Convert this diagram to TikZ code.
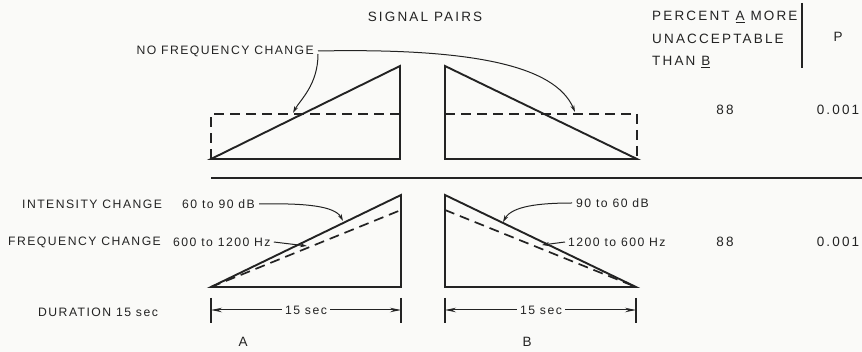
\documentclass[tikz,border=0pt]{standalone}
\usepackage{fontspec}
\setmainfont{Liberation Sans}[LetterSpace=12]
\newfontfamily\hdrfont{Liberation Sans}[LetterSpace=16]
\usetikzlibrary{arrows.meta}
\definecolor{ink}{RGB}{35,35,35}
\definecolor{paper}{RGB}{250,250,248}
\begin{document}
\begin{tikzpicture}[x=1pt,y=-1pt,
  lbl/.style={inner sep=0pt, text=ink, font=\fontsize{12.2}{14}\selectfont},
  hdr/.style={inner sep=0pt, text=ink, font=\hdrfont\fontsize{13.5}{22.5}\selectfont},
  shapeline/.style={draw=ink, line width=1.9pt, line join=miter},
  dashline/.style={draw=ink, line width=1.7pt, dash pattern=on 10pt off 6pt},
  pointer/.style={draw=ink, line width=1pt, -{Stealth[length=7pt,width=4pt]}},
  dimarrow/.style={draw=ink, line width=1pt, -{Stealth[length=11pt,width=4.5pt]}},
  rule/.style={draw=ink, line width=1.3pt}]
\fill[paper] (0,0) rectangle (862,352);
\useasboundingbox (0,0) rectangle (862,352);

% ---------- header ----------
\node[hdr] (title) at (425,17) {SIGNAL PAIRS};
\node[hdr, anchor=north west, align=left] (pct) at (652,11) {PERCENT \underline{A} MORE\\UNACCEPTABLE\\THAN \underline{B}};
\coordinate (barT) at (802,3);
\coordinate (barB) at (802,68);
\draw[rule] (barT) -- (barB);
\node[hdr] (p) at (838,37) {P};

% ---------- top pair ----------
\coordinate (a1) at (211,159); \coordinate (a2) at (400,66); \coordinate (a3) at (400,159);
\coordinate (a4) at (211,114); \coordinate (a5) at (400,114);
\draw[shapeline] (a1) -- (a2) -- (a3) -- cycle;
\draw[dashline] (a1) -- (a4) -- (a5);

\coordinate (b1) at (445,66); \coordinate (b2) at (637,159); \coordinate (b3) at (445,159);
\coordinate (b4) at (445,114); \coordinate (b5) at (637,114);
\draw[shapeline] (b1) -- (b2) -- (b3) -- cycle;
\draw[dashline] (b4) -- (b5) -- (b2);

\node[lbl, anchor=east] (nfc) at (314,51) {NO FREQUENCY CHANGE};
\coordinate (nfcA) at (293,113);
\coordinate (nfcB) at (575,112);
\draw[pointer] ([xshift=4pt,yshift=-3pt]nfc.east) .. controls (318,85) and (300,100) .. (nfcA);
\draw[pointer] ([xshift=4pt]nfc.east) .. controls (470,48) and (555,65) .. (nfcB);

\node[hdr] (v1) at (725,110) {88};
\node[hdr] (p1) at (838,110) {0.001};

\coordinate (rl) at (211,178); \coordinate (rr) at (862,178);
\draw[rule] (rl) -- (rr);

% ---------- bottom pair ----------
\coordinate (c1) at (211,287); \coordinate (c2) at (401,195); \coordinate (c3) at (401,287);
\coordinate (c4) at (401,210);
\draw[shapeline] (c1) -- (c2) -- (c3) -- cycle;
\draw[dashline] (c1) -- (c4);

\coordinate (d1) at (445,195); \coordinate (d2) at (636,287); \coordinate (d3) at (445,287);
\coordinate (d4) at (445,210);
\draw[shapeline] (d1) -- (d2) -- (d3) -- cycle;
\draw[dashline] (d4) -- (d2);

\node[lbl, anchor=west] (ic) at (22,204) {INTENSITY CHANGE};
\node[lbl, anchor=west] (icv) at (182,204) {60 to 90 dB};
\node[lbl, anchor=west] (fc) at (8,242) {FREQUENCY CHANGE};
\node[lbl, anchor=west] (fcv) at (173,242) {600 to 1200 Hz};
\node[lbl, anchor=west] (dur) at (38,312) {DURATION 15 sec};

\coordinate (icA) at (343,221);
\coordinate (fcA) at (307,246);
\draw[pointer] ([xshift=4pt]icv.east) .. controls (305,203) and (335,206) .. (icA);
\draw[pointer] ([xshift=3pt]fcv.east) -- (fcA);

\node[lbl, anchor=west] (icB) at (576,203) {90 to 60 dB};
\node[lbl, anchor=west] (fcB) at (568,242) {1200 to 600 Hz};
\coordinate (icBt) at (503,222);
\coordinate (fcBt) at (542,245);
\draw[pointer] ([xshift=-4pt]icB.west) .. controls (540,203) and (512,206) .. (icBt);
\draw[pointer] ([xshift=-3pt]fcB.west) -- (fcBt);

\node[hdr] (v2) at (725,242) {88};
\node[hdr] (p2) at (838,242) {0.001};

% ---------- duration dimensions ----------
\coordinate (ta1) at (211,298); \coordinate (ta2) at (211,323);
\coordinate (tb1) at (401,298); \coordinate (tb2) at (401,323);
\draw[rule] (ta1) -- (ta2); \draw[rule] (tb1) -- (tb2);
\node[lbl, fill=paper, inner xsep=3pt] (dimA) at (306,310) {15 sec};
\coordinate (dAl) at (211,310); \coordinate (dAr) at (401,310);
\draw[dimarrow] (dimA.west) -- (dAl);
\draw[dimarrow] (dimA.east) -- (dAr);

\coordinate (tc1) at (445,298); \coordinate (tc2) at (445,323);
\coordinate (td1) at (636,298); \coordinate (td2) at (636,323);
\draw[rule] (tc1) -- (tc2); \draw[rule] (td1) -- (td2);
\node[lbl, fill=paper, inner xsep=3pt] (dimB) at (541,310) {15 sec};
\coordinate (dBl) at (445,310); \coordinate (dBr) at (636,310);
\draw[dimarrow] (dimB.west) -- (dBl);
\draw[dimarrow] (dimB.east) -- (dBr);

\node[hdr] (labA) at (243,342) {A};
\node[hdr] (labB) at (527,342) {B};
\end{tikzpicture}
\end{document}
